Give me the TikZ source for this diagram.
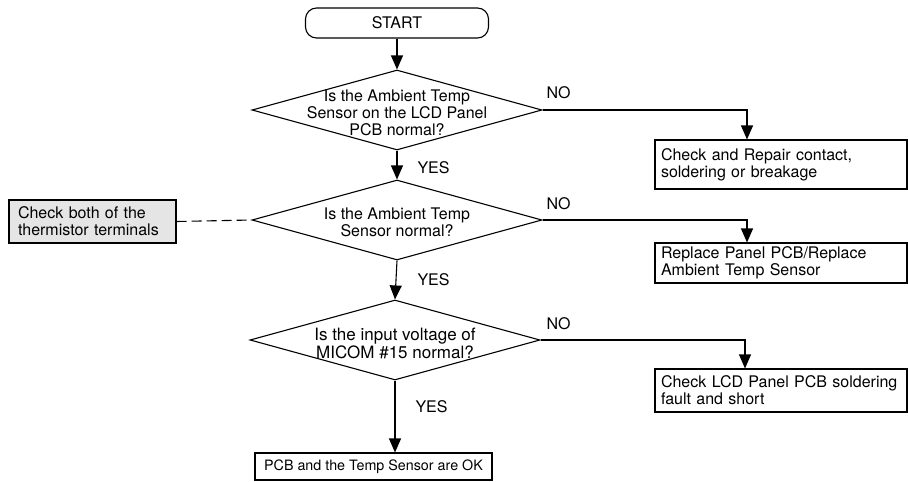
\documentclass[tikz,border=0pt]{standalone}
\usepackage{fontspec}
\setmainfont{TeX Gyre Heros}
\usetikzlibrary{shapes.geometric,arrows.meta}
\begin{document}
\begin{tikzpicture}[x=1pt,y=-1pt,
  font=\fontsize{16pt}{17pt}\selectfont,
  line width=1.1pt,
  arr/.style={-{Triangle[length=14pt,width=12pt]}},
  startbox/.style={draw,rounded corners=11pt,minimum width=183pt,minimum height=30pt,inner sep=0pt},
  dia/.style={draw,diamond,minimum width=290pt,minimum height=80pt,inner sep=0pt},
  actbox/.style={draw,align=left,text width=240pt,inner xsep=6pt,inner ysep=0pt,minimum width=252pt},
  sidebox/.style={draw,fill=black!10,align=left,text width=149pt,inner xsep=9pt,inner ysep=0pt,minimum height=43pt},
  lbl/.style={anchor=base west,inner sep=0pt}]
\useasboundingbox (0,0) rectangle (908,482);
\node[startbox] (start) at (397,23) {START};
\node[dia] (d1) at (397,110) {};
\node (t1) at (397,115) {\begin{tabular}{@{}c@{}}Is the Ambient Temp\\Sensor on the LCD Panel\\PCB normal?\end{tabular}};
\node[dia] (d2) at (397,220) {};
\node (t2) at (397,225) {\begin{tabular}{@{}c@{}}Is the Ambient Temp\\Sensor normal?\end{tabular}};
\node[dia] (d3) at (395,340) {};
\node[font=\fontsize{17pt}{17pt}\selectfont] (t3) at (395,346) {\begin{tabular}{@{}c@{}}Is the input voltage of\\MICOM \#15 normal?\end{tabular}};
\node[actbox,minimum height=49pt] (b1) at (781,164.5) {\mbox{Check and Repair contact,}\\\mbox{soldering or breakage}};
\node[actbox,minimum height=40pt] (b2) at (781,263) {\mbox{Replace Panel PCB/Replace}\\\mbox{Ambient Temp Sensor}};
\node[actbox,minimum height=43pt] (b3) at (781,390.5) {\mbox{Check LCD Panel PCB soldering}\\\mbox{fault and short}};
\node[draw,minimum width=237pt,minimum height=27pt,inner sep=0pt,font=\fontsize{14.3pt}{17pt}\selectfont] (fin) at (373.5,466.5) {PCB and the Temp Sensor are OK};
\node[sidebox] (side) at (92.5,221.5) {\mbox{Check both of the}\\\mbox{thermistor terminals}};
\draw[arr] (start.south) -- (d1.north);
\draw[arr] (d1.south) -- (d2.north);
\draw[arr] (d2.south) -- (d3.north);
\draw[arr] (d3.south) -- (d3.south |- fin.north);
\draw[arr] (d1.east) -| ([xshift=-34pt]b1.north);
\draw[arr] (d2.east) -| ([xshift=-34pt]b2.north);
\draw[arr] (d3.east) -| ([xshift=-36pt]b3.north);
\draw[dash pattern=on 10pt off 5pt] (side.east) -- (d2.west);
\node[lbl] (no1) at (546,98) {NO};
\node[lbl] (no2) at (546,209) {NO};
\node[lbl] (no3) at (546,329) {NO};
\node[lbl] (yes1) at (417,173) {YES};
\node[lbl] (yes2) at (417,285) {YES};
\node[lbl] (yes3) at (415,412) {YES};
\end{tikzpicture}
\end{document}
